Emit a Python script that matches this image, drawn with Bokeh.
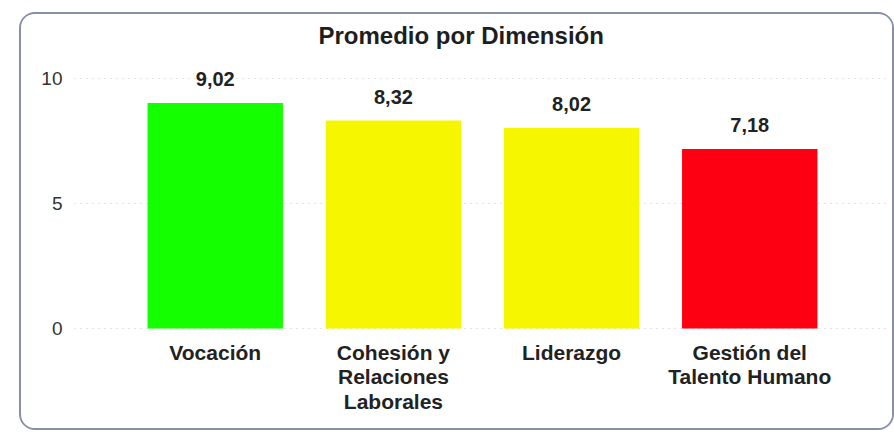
from bokeh.plotting import figure
from bokeh.models import ColumnDataSource, LabelSet, FactorRange, Range1d, FixedTicker
from bokeh.core.properties import value
from bokeh.embed import file_html
from bokeh.resources import INLINE

categories = ["Vocación", "Cohesión y\nRelaciones\nLaborales", "Liderazgo", "Gestión del\nTalento Humano"]
values = [9.02, 8.32, 8.02, 7.18]
value_labels = ["9,02", "8,32", "8,02", "7,18"]
colors = ["#14ff00", "#f6f600", "#f6f600", "#fd0012"]
y_ticks = [0, 5, 10]

FONT = "Liberation Sans"

src = ColumnDataSource(dict(cat=categories, val=values, lab=value_labels, col=colors))

p = figure(
    x_range=FactorRange(*categories, range_padding=0.29, range_padding_units="absolute"),
    y_range=Range1d(-0.2, 11.04),
    width=875, height=418,
    output_backend="svg", toolbar_location=None,
    min_border_left=53, min_border_right=6, min_border_top=38, min_border_bottom=99,
    title="Promedio por Dimensión",
)
p.margin = (12, 0, 0, 19)
p.styles = {"border": "2px solid #8a8ea8", "border-radius": "16px", "overflow": "hidden",
            "box-sizing": "border-box", "background-color": "white"}
p.outline_line_color = None
p.background_fill_color = "white"
p.border_fill_color = "white"

p.title.align = "left"
p.title.offset = 244
p.title.text_font = FONT
p.title.text_font_size = "24px"
p.title.text_font_style = "bold"
p.title.text_color = "#1e1e1e"
p.title.standoff = 8

p.vbar(x="cat", top="val", bottom=0, width=0.76, color="col", line_color=None, source=src)

labels = LabelSet(x="cat", y="val", text="lab", source=src, text_align="center",
                  text_baseline="alphabetic", y_offset=17, text_font=value(FONT),
                  text_font_size=value("20px"), text_font_style="bold", text_color="#222222")
p.add_layout(labels)

p.xgrid.grid_line_color = None
p.ygrid.grid_line_color = "#c4c4c4"
p.ygrid.grid_line_dash = "1 5"
p.ygrid.grid_line_width = 1

p.yaxis.ticker = FixedTicker(ticks=y_ticks)
p.yaxis.axis_line_color = None
p.yaxis.major_tick_line_color = None
p.yaxis.minor_tick_line_color = None
p.yaxis.major_tick_out = 0
p.yaxis.major_tick_in = 0
p.yaxis.major_label_standoff = 12
p.yaxis.major_label_text_font = FONT
p.yaxis.major_label_text_font_size = "19px"
p.yaxis.major_label_text_color = "#333333"

p.xaxis.axis_line_color = None
p.xaxis.major_tick_line_color = None
p.xaxis.major_tick_out = 0
p.xaxis.major_tick_in = 0
p.xaxis.major_label_standoff = 7
p.xaxis.major_label_text_font = FONT
p.xaxis.major_label_text_font_size = "21px"
p.xaxis.major_label_text_font_style = "bold"
p.xaxis.major_label_text_color = "#222222"
p.xaxis.major_label_text_line_height = 1.07

html = file_html(p, INLINE)
html = html.replace("<body>", '<body style="background-color:#f4f4f7">', 1)
open("out.html", "w").write(html)
